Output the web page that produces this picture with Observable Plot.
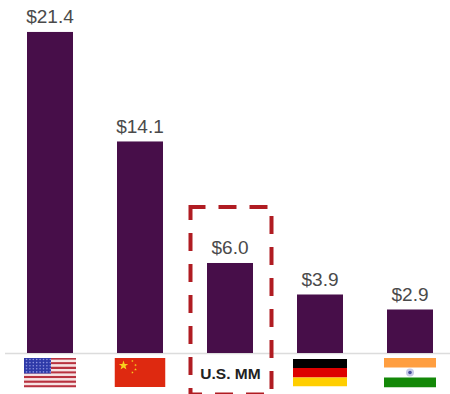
<!DOCTYPE html>
<html>
<head>
<meta charset="utf-8">
<script src="https://cdn.jsdelivr.net/npm/d3@7"></script>
<script src="https://cdn.jsdelivr.net/npm/@observablehq/plot@0.6"></script>
<style>
  html, body { margin: 0; padding: 0; background: #fff; }
  svg { display: block; }
</style>
</head>
<body>
<div id="chart"></div>
<script>
// Market size in $ trillions by economy
const markets = ["USA", "China", "U.S. MM", "Germany", "India"];
const values = [21.4, 14.1, 6.0, 3.9, 2.9];
const valueLabels = ["$21.4", "$14.1", "$6.0", "$3.9", "$2.9"];

// Flags shown under the baseline
const flagMarkets = ["USA", "China", "Germany", "India"];
const flagWidths = [52, 51, 54, 52];
const flagHeights = [30, 29, 28, 30];

// Highlight frame around the middle column, in value units
const frameMarket = ["U.S. MM"];
const frameLow = -2.77;
const frameHigh = 9.73;

const svgUri = (w, h, body) =>
  "data:image/svg+xml," + encodeURIComponent(
    `<svg xmlns="http://www.w3.org/2000/svg" viewBox="0 0 ${w} ${h}" width="${w}" height="${h}">${body}</svg>`
  );

const usStripes = d3.range(13).map(i =>
  `<rect y="${i * 30 / 13}" width="52" height="${30 / 13}" fill="${i % 2 ? "#f6e3e3" : "#b8323f"}"/>`
).join("");
const usStars = d3.range(5).flatMap(r => d3.range(8).map(c =>
  `<circle cx="${2.5 + c * 3.4}" cy="${2 + r * 3.1}" r=".8" fill="#8f95e0"/>`
)).join("");

const star = (x, y, r, rot = 0) => {
  const pts = d3.range(10).map(i => {
    const a = (i * 36 - 90 + rot) * Math.PI / 180, q = i % 2 ? r * 0.4 : r;
    return `${x + q * Math.cos(a)},${y + q * Math.sin(a)}`;
  }).join(" ");
  return `<polygon points="${pts}" fill="#f7d21e"/>`;
};

const flagImages = {
  USA: svgUri(52, 30, usStripes + `<rect width="27" height="16" fill="#2f3aa8"/>` + usStars),
  China: svgUri(51, 29, `<rect width="51" height="29" fill="#de2910"/>` +
    star(9, 7.5, 5) + star(18, 3, 1.4, 20) + star(21, 7, 1.4, 40) + star(21, 11.5, 1.4, 0) + star(18, 14.5, 1.4, 20)),
  Germany: svgUri(54, 28, `<rect width="54" height="9.5" fill="#000"/><rect y="9.5" width="54" height="9.5" fill="#dd0000"/><rect y="19" width="54" height="9" fill="#ffce00"/>`),
  India: svgUri(52, 30, `<rect width="52" height="10" fill="#ff9e40"/><rect y="20" width="52" height="10" fill="#138808"/>` +
    `<circle cx="26" cy="15" r="4" fill="#c9cbe6"/><circle cx="26" cy="15" r="1.8" fill="#4a4f9c"/>`)
};

const rows = markets.map((market, i) => ({market, value: values[i], label: valueLabels[i]}));
const flags = flagMarkets.map((market, i) => ({
  market, src: flagImages[market], w: flagWidths[i], h: flagHeights[i]
}));

const chart = Plot.plot({
  width: 450,
  height: 394,
  marginTop: 0,
  marginRight: 0,
  marginBottom: 41,
  marginLeft: 5,
  style: {background: "#fff", fontFamily: "'Liberation Sans', Arial, sans-serif"},
  x: {domain: markets, range: [5, 455], paddingInner: 0.49, paddingOuter: 0.245, axis: null},
  y: {domain: [0, 23.53], range: [353, 0], axis: null},
  marks: [
    Plot.ruleY([0], {stroke: "#dcdcdc", strokeWidth: 1.5}),
    Plot.barY(rows, {x: "market", y: "value", fill: "#470e49"}),
    Plot.text(rows, {
      x: "market", y: "value", text: "label",
      dy: -9, dx: -0.5, lineAnchor: "bottom",
      fontSize: 19, fill: "#4a4a4a"
    }),
    Plot.image(flags, {
      x: "market", y: () => 0, src: "src",
      width: "w", height: "h", dy: 19, dx: -0.5,
      preserveAspectRatio: "none"
    }),
    Plot.text(frameMarket, {
      x: d => d, y: () => 0, text: d => d,
      dy: 21, fontSize: 15.5, fontWeight: "bold", fill: "#222"
    }),
    Plot.barY(frameMarket, {
      x: d => d, y1: () => frameLow, y2: () => frameHigh,
      insetLeft: -16.5, insetRight: -18.5,
      fill: "none", stroke: "#b01c22", strokeWidth: 4,
      strokeDasharray: "18 13", strokeDashoffset: 3
    })
  ]
});
document.getElementById("chart").appendChild(chart);
</script>
</body>
</html>
